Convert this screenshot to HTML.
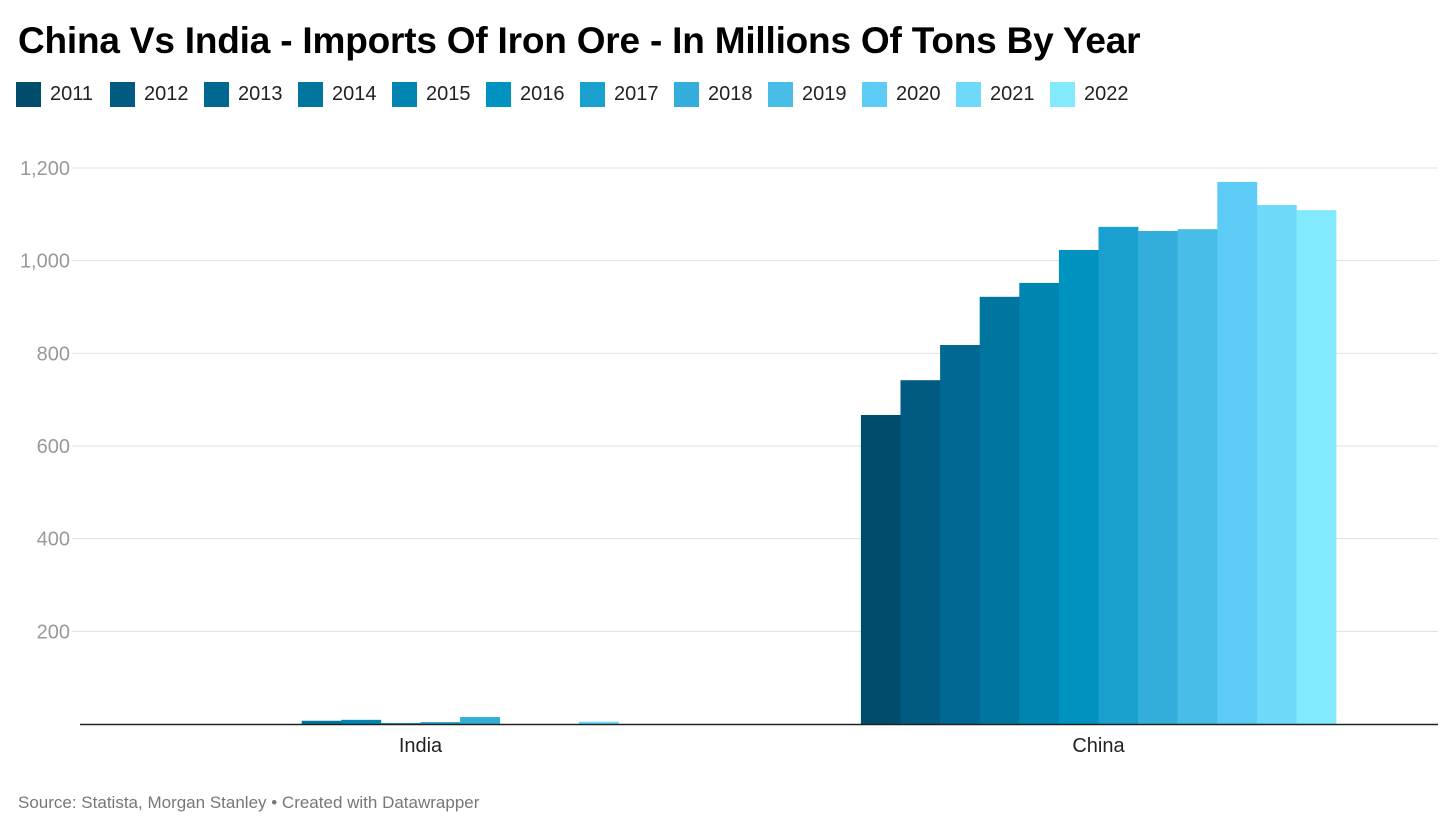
<!DOCTYPE html>
<html><head><meta charset="utf-8">
<style>
body{margin:0;background:#fff;font-family:"Liberation Sans",Roboto,sans-serif;}
#wrap{position:relative;width:1456px;height:835px;overflow:hidden}
h1{position:absolute;left:18px;top:20px;margin:0;font-size:37px;font-weight:bold;color:#000;letter-spacing:-0.2px}
.legend{position:absolute;left:16px;top:82px;display:flex;font-size:20px;color:#222}
.li{display:flex;align-items:center;width:94px}
.sw{width:25px;height:25px;margin-right:9px}
.src{position:absolute;left:18px;top:793px;font-size:17px;color:#777}
</style></head><body>
<div id="wrap">
<h1>China Vs India - Imports Of Iron Ore - In Millions Of Tons By Year</h1>
<div class="legend" id="legend"></div>
<svg id="svg" width="1456" height="835" style="position:absolute;left:0;top:0"></svg>
<div class="src">Source: Statista, Morgan Stanley • Created with Datawrapper</div>
</div>
<script>
const years=["2011","2012","2013","2014","2015","2016","2017","2018","2019","2020","2021","2022"];
const countries=["India","China"];
const indiaValues=[0,0,0,7,9,2,4,15,0,0,5,0];
const chinaValues=[667,742,818,922,952,1023,1073,1064,1068,1170,1120,1109];
const yTicks=[200,400,600,800,1000,1200];
const colors=["#004c6d","#005a82","#006891","#00769f","#0085b0","#0093c0","#1aa0cf","#33aedb","#48bde8","#5ccbf5","#6fd9fb","#83e9fd"];
const series=[indiaValues,chinaValues];
const NS="http://www.w3.org/2000/svg";
const svg=document.getElementById('svg');
const base=724, top0=168, yMax=1200;
function y(v){return base-(v/yMax)*(base-top0);}
const groupCenters=[420.5,1098.5], barW=39.6;
function mk(t,a){const e=document.createElementNS(NS,t);for(const k in a)e.setAttribute(k,a[k]);svg.appendChild(e);return e;}
yTicks.forEach(t=>{
 const l=mk('line',{x1:72,x2:1438,y1:y(t),y2:y(t),stroke:'#e0e0e0','stroke-width':1});
 
 
 const tx=mk('text',{x:70,y:y(t)+7,'text-anchor':'end','font-size':20,fill:'#999','font-family':'Liberation Sans, sans-serif'});
 tx.textContent=t.toLocaleString('en-US');
 
 
});
series.forEach((vals,g)=>{
 const start=groupCenters[g]-barW*vals.length/2;
 vals.forEach((v,i)=>{
  if(v<=0)return;
  const r=mk('rect',{x:start+i*barW,y:y(v),width:barW+0.3,height:base-y(v),fill:colors[i]});
  
  
 });
 const tx=mk('text',{x:groupCenters[g],y:752,'text-anchor':'middle','font-size':20,fill:'#222','font-family':'Liberation Sans, sans-serif'});
 tx.textContent=countries[g];
 
 
});
const ax=mk('line',{x1:80,x2:1438,y1:base+0.5,y2:base+0.5,stroke:'#222','stroke-width':1.5});


const lg=document.getElementById('legend');
years.forEach((yr,i)=>{
 const d=document.createElement('div');d.className='li';
 
 
 d.innerHTML='<div class="sw" style="background:'+colors[i]+'"></div><span>'+yr+'</span>';
 lg.appendChild(d);
});
</script>
</body></html>
